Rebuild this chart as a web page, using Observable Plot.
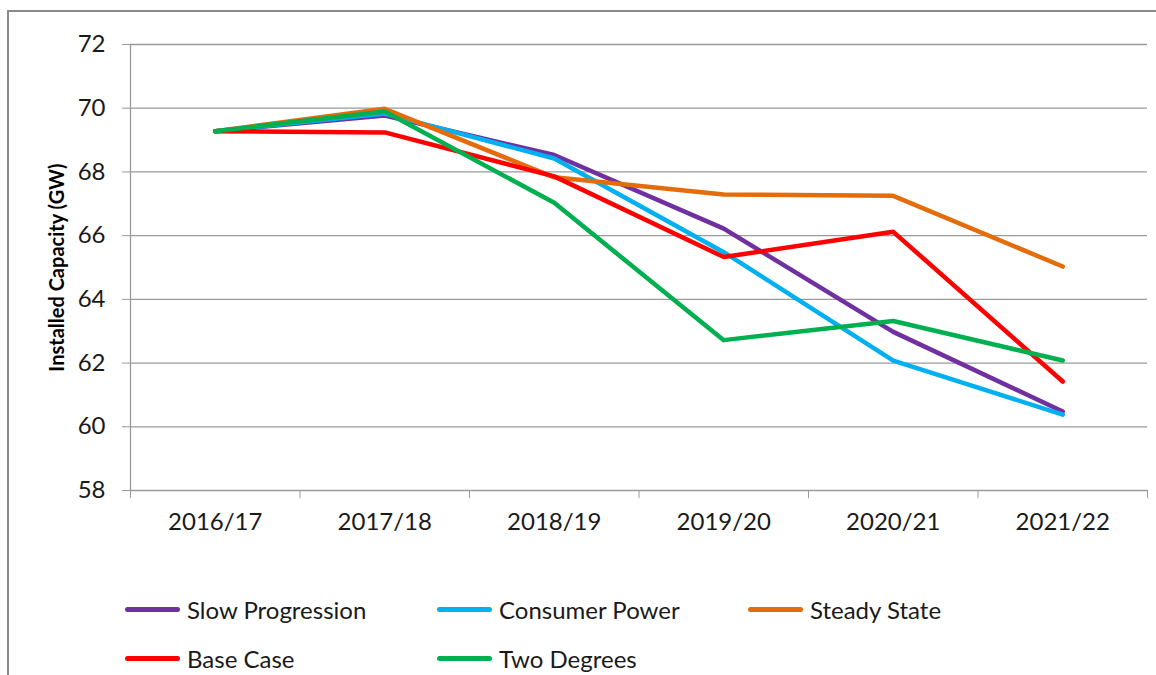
<!DOCTYPE html>
<html>
<head>
<meta charset="utf-8">
<script src="https://cdn.jsdelivr.net/npm/d3@7"></script>
<script src="https://cdn.jsdelivr.net/npm/@observablehq/plot@0.6"></script>
<style>
  html, body { margin: 0; padding: 0; background: #fff; }
  #wrap { position: relative; width: 1156px; height: 675px; overflow: hidden; font-family: Lato, "Open Sans", sans-serif; }
  #frame { position: absolute; left: 7px; top: 10px; width: 1160px; height: 700px; border-left: 2px solid #8a8a8a; border-top: 2px solid #8a8a8a; box-sizing: border-box; }
  #chart { position: absolute; left: 0; top: 0; }
  .leg { position: absolute; display: flex; align-items: center; font-size: 24px; color: #1a1a1a; white-space: nowrap; }
  .leg .sw { width: 55px; height: 5px; border-radius: 3px; margin-right: 7px; }
</style>
</head>
<body>
<div id="wrap">
  <div id="frame"></div>
  <div id="chart"></div>
  <div id="legend"></div>
</div>
<script>
const categories = ["2016/17", "2017/18", "2018/19", "2019/20", "2020/21", "2021/22"];
const seriesNames = ["Slow Progression", "Consumer Power", "Steady State", "Base Case", "Two Degrees"];
const seriesColors = ["#7030A0", "#00B0F0", "#E46C0A", "#FF0000", "#00B050"];
const slowProgression = [69.28, 69.77, 68.53, 66.22, 62.98, 60.48];
const consumerPower   = [69.28, 69.83, 68.42, 65.48, 62.08, 60.38];
const steadyState     = [69.28, 69.98, 67.83, 67.29, 67.25, 65.03];
const baseCase        = [69.28, 69.24, 67.86, 65.33, 66.12, 61.42];
const twoDegrees      = [69.28, 69.90, 67.03, 62.72, 63.32, 62.08];
const yTicks = [58, 60, 62, 64, 66, 68, 70, 72];
const yLabel = "Installed Capacity (GW)";

const allSeries = [slowProgression, consumerPower, steadyState, baseCase, twoDegrees];
const rows = [];
allSeries.forEach((vals, s) => vals.forEach((v, i) => rows.push({series: seriesNames[s], i, v})));

const boundaries = d3.range(-0.5, categories.length, 1);
const centers = d3.range(categories.length);

const plot = Plot.plot({
  width: 1156,
  height: 560,
  marginLeft: 130,
  marginRight: 9,
  marginTop: 44,
  marginBottom: 70,
  style: {fontFamily: "Lato, 'Open Sans', sans-serif", background: "transparent"},
  x: {type: "linear", domain: [-0.5, categories.length - 0.5]},
  y: {type: "linear", domain: [58, 72]},
  color: {domain: seriesNames, range: seriesColors},
  marks: [
    Plot.ruleY(yTicks, {stroke: "#9a9a9a", strokeWidth: 1.3}),
    Plot.ruleX([-0.5], {stroke: "#9a9a9a", strokeWidth: 1.3}),
    Plot.axisY({ticks: yTicks, tickSize: 8, tickPadding: 17, tickFormat: d => d, fontSize: 24, color: "#1a1a1a", stroke: "#9a9a9a", label: null}),
    Plot.axisX({ticks: boundaries, tickSize: 8, tickFormat: () => "", stroke: "#9a9a9a", label: null}),
    Plot.axisX({ticks: centers, tickSize: 0, tickPadding: 22, tickFormat: i => categories[i], fontSize: 24, color: "#1a1a1a", label: null}),
    Plot.text([yLabel], {frameAnchor: "left", textAnchor: "middle", dx: -73, rotate: -90, fontSize: 20, fontWeight: "bold", fill: "#000"}),
    Plot.line(rows, {x: "i", y: "v", z: "series", stroke: "series", strokeWidth: 4.5, strokeLinejoin: "round", strokeLinecap: "round"})
  ]
});
document.getElementById("chart").appendChild(plot);

// legend
const legendPos = [
  {left: 125, top: 609}, {left: 437, top: 609}, {left: 748, top: 609},
  {left: 125, top: 658}, {left: 437, top: 658}
];
const leg = document.getElementById("legend");
seriesNames.forEach((name, k) => {
  const d = document.createElement("div");
  d.className = "leg";
  d.style.left = legendPos[k].left + "px";
  d.style.top = (legendPos[k].top - 16) + "px";
  d.style.height = "32px";
  const sw = document.createElement("div");
  sw.className = "sw";
  sw.style.background = seriesColors[k];
  const t = document.createElement("span");
  t.textContent = name;
  d.appendChild(sw); d.appendChild(t);
  leg.appendChild(d);
});
</script>
</body>
</html>
